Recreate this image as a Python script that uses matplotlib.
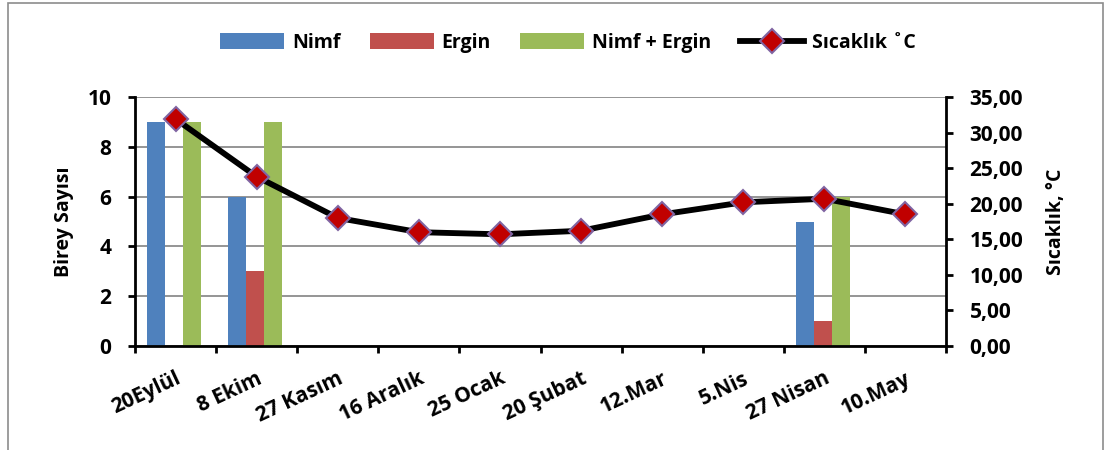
import numpy as np
import matplotlib.pyplot as plt
from matplotlib.patches import Rectangle
from matplotlib.ticker import FixedLocator

plt.rcParams['font.family'] = ['Open Sans', 'DejaVu Sans']
plt.rcParams['font.weight'] = 'bold'

# data
dates = ['20Eylül', '8 Ekim', '27 Kasım', '16 Aralık', '25 Ocak',
         '20 Şubat', '12.Mar', '5.Nis', '27 Nisan', '10.May']
nimf = [9, 6, 0, 0, 0, 0, 0, 0, 5, 0]
ergin = [0, 3, 0, 0, 0, 0, 0, 0, 1, 0]
toplam = [9, 9, 0, 0, 0, 0, 0, 0, 6, 0]
sicaklik = [31.9, 23.8, 18.0, 16.0, 15.7, 16.2, 18.5, 20.2, 20.7, 18.5]

left_ticks = [0, 2, 4, 6, 8, 10]
right_ticks = [0, 5, 10, 15, 20, 25, 30, 35]
right_labels = ['0,00', '5,00', '10,00', '15,00', '20,00', '25,00', '30,00', '35,00']

blue = '#4F81BD'
red = '#C0504D'
green = '#9BBB59'

fig = plt.figure(figsize=(11.05, 4.5), dpi=100)
ax = fig.add_axes([0.1222, 0.2311, 0.7339, 0.5533])

# chart frame
fig.patches.append(Rectangle((8 / 1105, -0.01), 1095 / 1105, 1 - 3 / 450 + 0.01,
                             transform=fig.transFigure, fill=False,
                             edgecolor='#8C8C8C', linewidth=1.2))

x = np.arange(len(dates))
w = 0.222
ax.bar(x - w - 0.02, nimf, w, color=blue, label='Nimf', zorder=2)
ax.bar(x - 0.02, ergin, w, color=red, label='Ergin', zorder=2)
ax.bar(x + w - 0.02, toplam, w, color=green, label='Nimf + Ergin', zorder=2)

ax.set_xlim(-0.5, len(dates) - 0.5)
ax.set_ylim(0, 10)
ax.set_yticks(left_ticks)
ax.yaxis.grid(True, color='#8C8C8C', linewidth=1.3, zorder=0)
ax.set_axisbelow(True)

ax.set_xticks(x)
ax.set_xticklabels(dates, rotation=25, ha='right', rotation_mode='anchor', fontsize=15)
ax.xaxis.set_minor_locator(FixedLocator(np.arange(-0.5, len(dates), 1.0)))
ax.tick_params(axis='x', which='major', length=0, pad=16)
ax.tick_params(axis='x', which='minor', length=5, width=2, direction='out')
ax.tick_params(axis='y', length=5, width=2, labelsize=15, pad=12)

ax.spines['top'].set_visible(False)
ax.spines['left'].set_linewidth(2)
ax.spines['bottom'].set_linewidth(2)
ax.spines['right'].set_visible(False)
ax.set_ylabel('Birey Sayısı', fontsize=14, fontweight='bold', labelpad=10)

ax2 = ax.twinx()
ax2.plot(x, sicaklik, color='black', linewidth=4.2, marker='D', markersize=12,
         markerfacecolor='#C00000', markeredgecolor='#8064A2', markeredgewidth=1.5,
         label='Sıcaklık ˚C', zorder=5)
ax2.set_ylim(0, 35)
ax2.set_yticks(right_ticks)
ax2.set_yticklabels(right_labels)
ax2.tick_params(axis='y', length=5, width=2, labelsize=15, pad=12)
ax2.spines['right'].set_linewidth(2)
ax2.spines['top'].set_visible(False)
ax2.spines['left'].set_visible(False)
ax2.spines['bottom'].set_visible(False)
ax2.set_ylabel('Sıcaklık, °C', fontsize=14, fontweight='bold', labelpad=16)

h1, l1 = ax.get_legend_handles_labels()
h2, l2 = ax2.get_legend_handles_labels()
fig.legend(h1 + h2, l1 + l2, loc='center', bbox_to_anchor=(0.514, 0.905), ncol=4,
           frameon=False, fontsize=14, handlelength=3.3, handleheight=0.85,
           columnspacing=1.5, handletextpad=0.4)

fig.savefig('out.png', dpi=100)
